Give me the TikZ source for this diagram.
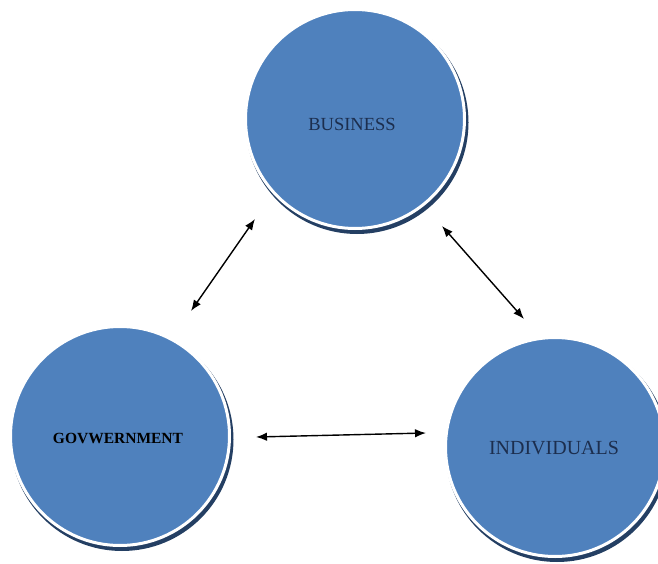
\documentclass[tikz,border=0pt]{standalone}
\usepackage{fontspec}
\setmainfont{Liberation Serif}
\usetikzlibrary{arrows.meta,backgrounds,calc}
\definecolor{bubblue}{HTML}{4F81BD}
\definecolor{shadowc}{HTML}{243F63}
\definecolor{navytext}{HTML}{1C2E4E}
\tikzset{
  bubble/.style={circle, fill=bubblue, draw=white, line width=3pt, minimum size=219pt, inner sep=0pt},
  bubshadow/.style={fill=shadowc},
  link/.style={<->, line width=1.4pt, >={Latex[length=11pt,width=8.5pt]}, black}
}
\begin{document}
\begin{tikzpicture}[x=1pt,y=-1pt]
\useasboundingbox (0,0) rectangle (658,564);
\node[bubble] (bus) at (355,119) {};
\node[bubble] (gov) at (120,436) {};
\node[bubble] (ind) at (555,447) {};
\node[text=navytext, font=\fontsize{18.5}{20}\selectfont] (tbus) at (352,124) {BUSINESS};
\node[text=black, font=\fontsize{15.5}{18}\selectfont\bfseries] (tgov) at (118,438) {GOVWERNMENT};
\node[text=navytext, font=\fontsize{20}{22}\selectfont] (tind) at (554,448) {INDIVIDUALS};
\begin{scope}[on background layer]
  \fill[bubshadow] ($(bus)+(2,3.5)$) circle (111.5);
  \fill[bubshadow] ($(gov)+(2,3.5)$) circle (111.5);
  \fill[bubshadow] ($(ind)+(2,3.5)$) circle (111.5);
\end{scope}
\coordinate (a1) at (191,311);
\coordinate (a2) at (255,219);
\coordinate (b1) at (442,226);
\coordinate (b2) at (524,319);
\coordinate (c1) at (256,437);
\coordinate (c2) at (426,433);
\draw[link] (a1) -- (a2);
\draw[link] (b1) -- (b2);
\draw[link] (c1) -- (c2);
\end{tikzpicture}
\end{document}
